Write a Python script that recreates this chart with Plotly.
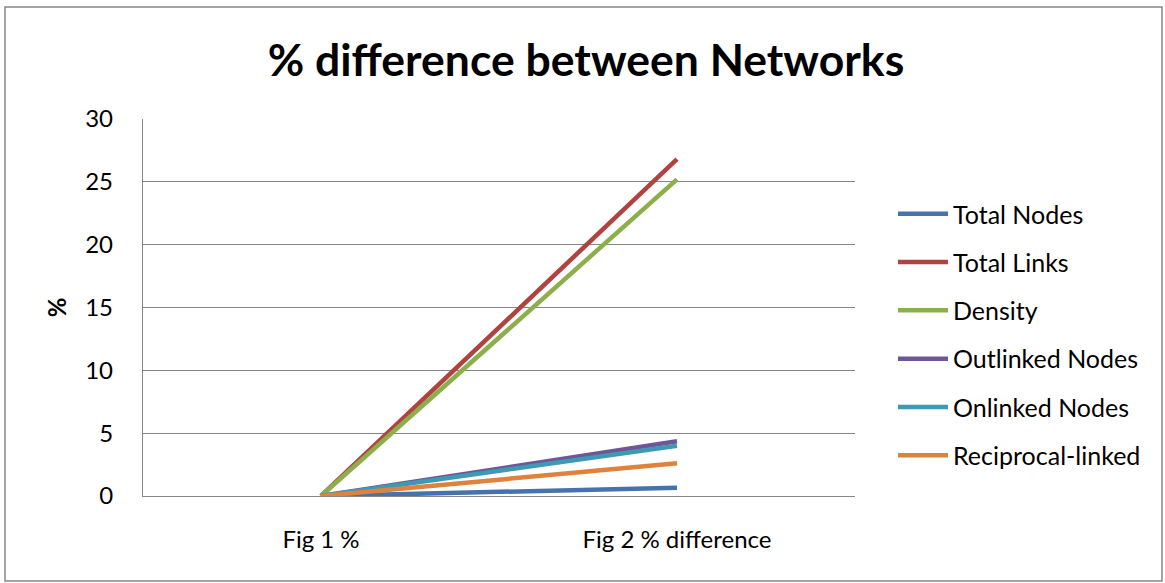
import plotly.graph_objects as go

categories = ["Fig 1 %", "Fig 2 % difference"]
series_names = ["Total Nodes", "Total Links", "Density", "Outlinked Nodes", "Onlinked Nodes", "Reciprocal-linked"]
total_nodes = [0, 0.66]
total_links = [0, 26.8]
density = [0, 25.2]
outlinked_nodes = [0, 4.35]
onlinked_nodes = [0, 4.0]
reciprocal_linked = [0, 2.6]
series_values = [total_nodes, total_links, density, outlinked_nodes, onlinked_nodes, reciprocal_linked]
colors = ["#4673AE", "#B0433F", "#8CAF4C", "#705597", "#3E99B5", "#E0823A"]
y_ticks = [0, 5, 10, 15, 20, 25, 30]

W, H = 1165, 583
L, R, T, B = 143, 855, 119, 496

fig = go.Figure()
for i, (name, vals, col) in enumerate(zip(series_names, series_values, colors)):
    fig.add_trace(go.Scatter(
        x=categories, y=vals, mode="lines", name=name,
        line=dict(color=col, width=4.5),
        legendgroup=f"g{i}",
    ))

def px2paper_x(px):
    return (px - L) / (R - L)

def px2paper_y(py):
    return (B - py) / (B - T)

font = "Lato, Calibri, sans-serif"
fig.update_layout(
    width=W, height=H,
    margin=dict(l=L, r=W - R, t=T, b=H - B, pad=0),
    paper_bgcolor="white", plot_bgcolor="white",
    font=dict(family=font, size=24, color="black"),
    title=dict(text="<b>% difference between Networks</b>", x=0.503, xanchor="center",
               y=1 - 60 / H, yanchor="middle", font=dict(family=font, size=44.5, color="black")),
    showlegend=True,
    legend=dict(x=px2paper_x(893), xanchor="left", y=px2paper_y(191), yanchor="top",
                traceorder="grouped", tracegroupgap=12.8, font=dict(family=font, size=25),
                bgcolor="rgba(0,0,0,0)", itemwidth=50),
    xaxis=dict(type="category", range=[-0.5, 1.5], showgrid=False,
               showline=True, linecolor="#868686", linewidth=1.3,
               ticks="", ticklabelstandoff=22, tickfont=dict(family=font, size=24)),
    yaxis=dict(range=[0, 30], tickvals=y_ticks, showgrid=True, gridcolor="#868686", gridwidth=1.3,
               showline=True, linecolor="#868686", linewidth=1.3, zeroline=False,
               ticks="", ticklabelstandoff=24, tickfont=dict(family=font, size=24),
               title=dict(text="<b>%</b>", font=dict(family=font, size=24), standoff=11)),
)

# outer chart border
fig.add_shape(type="rect", xref="paper", yref="paper",
              x0=px2paper_x(5), x1=px2paper_x(1162), y0=px2paper_y(581), y1=px2paper_y(7),
              line=dict(color="#868686", width=1.5), fillcolor="rgba(0,0,0,0)", layer="below")

fig.write_html("out.html")
